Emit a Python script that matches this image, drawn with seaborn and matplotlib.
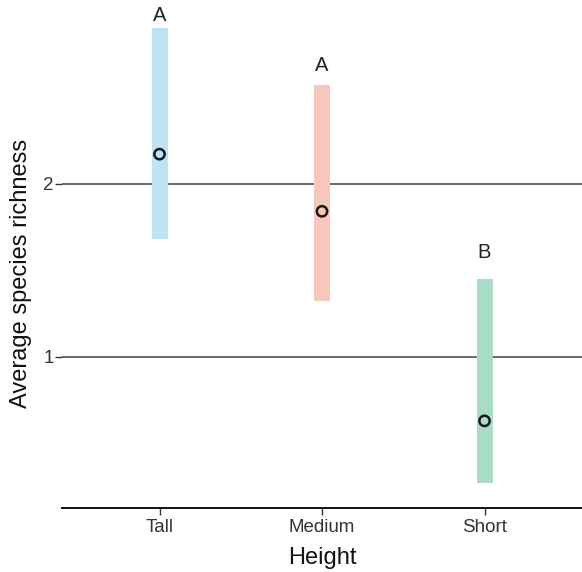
import matplotlib
matplotlib.use("Agg")
import matplotlib.pyplot as plt
import seaborn as sns
import pandas as pd

heights = ["Tall", "Medium", "Short"]
means = [2.17, 1.84, 0.63]
ci_low = [1.68, 1.32, 0.27]
ci_high = [2.90, 2.57, 1.45]
letters = ["A", "A", "B"]
letter_y = [2.97, 2.68, 1.60]
colors = ["#BDE3F5", "#F8C7BB", "#A9DCC7"]
yticks = [1, 2]

sns.set_theme(style="white")
plt.rcParams["font.family"] = ["Liberation Sans", "DejaVu Sans"]

fig = plt.figure(figsize=(5.82, 5.72), dpi=100)
ax = fig.add_axes([62 / 582, 1 - 508 / 572, 1 - 62 / 582, 508 / 572])

rng_df = pd.DataFrame({
    "Height": heights + heights,
    "value": ci_low + ci_high,
})
pal = dict(zip(heights, colors))
sns.lineplot(data=rng_df, x="Height", y="value", hue="Height", units="Height",
             estimator=None, palette=pal, linewidth=11.5, legend=False, ax=ax,
             solid_capstyle="butt", zorder=2)

pt_df = pd.DataFrame({"Height": heights, "mean": means})
sns.scatterplot(data=pt_df, x="Height", y="mean", s=55, facecolor="none",
                edgecolor="#1a1a1a", linewidth=1.8, ax=ax, zorder=4)

for i, (lab, ly) in enumerate(zip(letters, letter_y)):
    ax.text(i, ly, lab, ha="center", va="center", fontsize=14.5, color="#222222")

for yv in yticks:
    ax.axhline(yv, color="#4a3d3a", linewidth=1.1, zorder=1)

ax.set_xlim(-0.6, 2.6)
ax.set_ylim(0.127, 3.06)
ax.set_yticks(yticks)
ax.set_yticklabels([str(v) for v in yticks])
ax.set_xticks(range(len(heights)))
ax.set_xticklabels(heights)

for s in ["top", "right", "left"]:
    ax.spines[s].set_visible(False)
ax.spines["bottom"].set_color("#111111")
ax.spines["bottom"].set_linewidth(1.4)
ax.tick_params(axis="x", which="both", length=5, width=1, color="#333333",
               labelsize=13.5, labelcolor="#333333", bottom=True, pad=3)
ax.tick_params(axis="y", which="both", length=5, width=1, color="#333333",
               labelsize=13.5, labelcolor="#333333", left=True, pad=1)
ax.set_xlabel("Height", fontsize=17, color="#111111")
ax.set_ylabel("Average species richness", fontsize=17, color="#111111")
ax.xaxis.set_label_coords(0.5, -(558 - 508) / 508)
ax.yaxis.set_label_coords((21 - 62) / 520, (508 - 273) / 508)
ax.xaxis.label.set_va("center")
ax.yaxis.label.set_va("center")

fig.savefig("out.png", dpi=100)
